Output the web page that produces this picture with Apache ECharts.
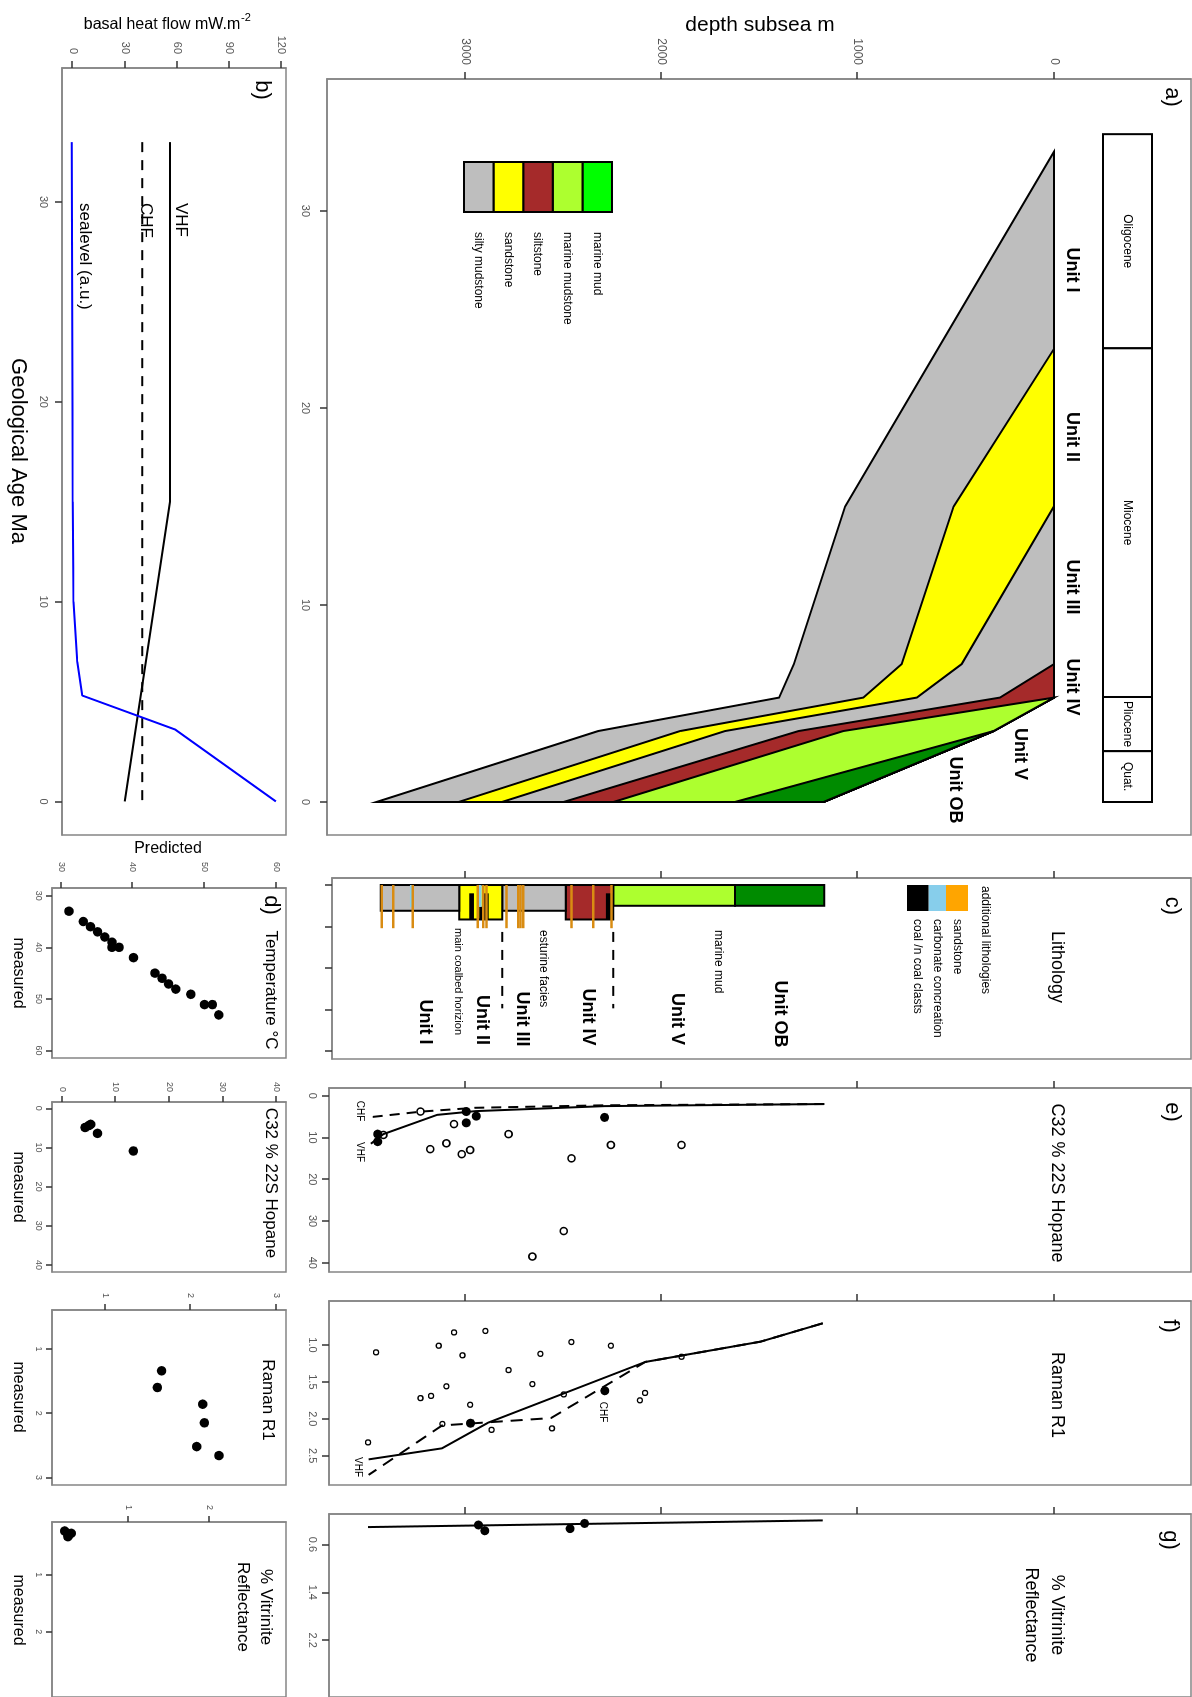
<!DOCTYPE html>
<html>
<head>
<meta charset="utf-8">
<script src="https://cdn.jsdelivr.net/npm/echarts@6/dist/echarts.min.js"></script>
<style>
  html, body { margin: 0; padding: 0; width: 1192px; height: 1697px; overflow: hidden; background: #fff; }
  /* the figure is laid out landscape and turned a quarter turn clockwise */
  #chart { position: absolute; left: 0; top: 0; width: 1697px; height: 1192px;
           transform-origin: 0 0; transform: translate(1192px, 0) rotate(90deg); }
</style>
</head>
<body>
<div id="chart"></div>
<script>
// ---------------- burial history (panel a) ----------------
const burialAges    = [33, 23, 15, 7, 5.3, 3.6, 0];          // Ma
const seafloorDepth = [0, 0, 0, 0, 0, 308, 1174];            // m subsea
const baseUnitI     = [0, 591, 1064, 1325, 1400, 2322, 3451];
const baseUnitII    = [null, 0, 511, 776, 971, 1905, 3033];
const baseUnitIII   = [null, null, 0, 470, 699, 1676, 2812];
const baseUnitIV    = [null, null, null, 0, 275, 1302, 2498];
const baseUnitV     = [null, null, null, null, 0, 1074, 2244];
const baseUnitOB    = [null, null, null, null, null, 308, 1625];
const unitNames     = ['Unit I', 'Unit II', 'Unit III', 'Unit IV', 'Unit V', 'Unit OB'];

const epochNames = ['Oligocene', 'Miocene', 'Pliocene', 'Quat.'];
const epochStart = [33.9, 23.03, 5.33, 2.58];
const epochEnd   = [23.03, 5.33, 2.58, 0];

const legendNames = ['marine mud', 'marine mudstone', 'siltstone', 'sandstone', 'silty mudstone'];

// ---------------- heat flow / sea level (panel b) ----------------
const vhfAges = [33, 15, 0];
const vhfFlow = [56, 56, 30];
const chfAges = [33, 0];
const chfFlow = [40, 40];
const seaAges  = [33, 15, 10, 7, 5.3, 3.6, 0];
const seaLevel = [-0.5, 0, 0.4, 2.6, 5.5, 59, 117];

// ---------------- lithology log (panel c) ----------------
const lithoTop   = [1170, 1625, 2245, 2486, 2810, 3029];
const lithoBase  = [1625, 2245, 2486, 2810, 3029, 3429];
const lithoGrain = [0.5, 0.5, 0.83, 0.62, 0.83, 0.62];
const lithoUnit  = ['Unit OB', 'Unit V', 'Unit IV', 'Unit III', 'Unit II', 'Unit I'];
const coalTop    = [2954, 2910, 2879, 2241];
const coalBase   = [2978, 2927, 2903, 2282];
const coalFrom   = [0.2, 0.52, 0.2, 0.2];
const coalTo     = [0.83, 0.83, 0.83, 0.83];
const carbTop    = [3263, 2915];
const carbBase   = [3280, 2932];
const carbGrain  = [0.53, 0.53];
const sandDepths = [3424, 3365, 3266, 2935, 2907, 2890, 2788, 2729, 2717, 2703, 2457, 2347, 2253];
const sandGrain  = 1.04;
const faciesBreakDepths = [2810, 2245];

// ---------------- C32 % 22S hopane (panel e) ----------------
const hopVhfDepth = [1170, 2290, 2948, 3143, 3416, 3480];
const hopVhf      = [2.0, 2.5, 3.7, 4.6, 9.2, 11.5];
const hopChfDepth = [1170, 2290, 2948, 3221, 3494];
const hopChf      = [2.0, 2.3, 2.9, 3.8, 5.2];
const hopOpenDepth = [3227, 3416, 3056, 3095, 3177, 3017, 2974, 2778, 2458, 2497, 2657, 2257, 1897];
const hopOpen      = [3.8, 9.4, 6.8, 11.4, 12.8, 14.0, 13.0, 9.2, 15.0, 32.4, 38.5, 11.8, 11.8];
const hopFilledDepth = [2994, 2994, 2943, 3445, 3445, 2289];
const hopFilled      = [3.8, 6.5, 4.9, 9.2, 11.0, 5.2];

// ---------------- Raman R1 (panel f) ----------------
const ramVhfDepth = [1178, 1495, 2082, 2880, 3117, 3491];
const ramVhf      = [0.706, 0.955, 1.23, 2.05, 2.40, 2.55];
const ramChfDepth = [1178, 1495, 2082, 2562, 3117, 3491];
const ramChf      = [0.706, 0.955, 1.23, 1.99, 2.09, 2.76];
const ramOpenDepth = [3453, 3134, 3056, 3013, 2896, 2778, 2616, 2458, 3095, 3173, 3227, 2974, 2657, 2497, 3115, 2865, 2557, 3494, 2257, 1897, 2083, 2109];
const ramOpen      = [1.10, 1.01, 0.83, 1.14, 0.81, 1.34, 1.12, 0.96, 1.56, 1.69, 1.72, 1.81, 1.53, 1.67, 2.07, 2.15, 2.13, 2.32, 1.01, 1.16, 1.65, 1.75];
const ramFilledDepth = [2972, 2288];
const ramFilled      = [2.06, 1.62];

// ---------------- vitrinite reflectance (panel g) ----------------
const vrModelDepth = [1178, 3494];
const vrModel      = [0.197, 0.309];
const vrFilledDepth = [2932, 2899, 2465, 2391];
const vrFilled      = [0.274, 0.37, 0.335, 0.248];

// ---------------- measured vs predicted ----------------
const tempMeasured  = [33.0, 35.0, 36.0, 37.0, 38.0, 39.0, 40.0, 40.0, 42.0, 45.0, 46.0, 47.1, 48.1, 49.1, 51.1, 51.1, 53.1];
const tempPredicted = [31.1, 33.1, 34.1, 35.1, 36.1, 37.1, 37.1, 38.1, 40.1, 43.1, 44.1, 45.0, 46.0, 48.1, 50.0, 51.1, 52.0];
const hopMeasured   = [4.9, 4.4, 4.1, 6.4, 10.9];
const hopPredicted  = [4.3, 5.0, 5.35, 6.6, 13.3];
const ramMeasured   = [1.34, 1.60, 1.86, 2.15, 2.52, 2.66];
const ramPredicted  = [1.66, 1.61, 2.14, 2.16, 2.07, 2.33];
const vrMeasured    = [0.23, 0.30, 0.27, 0.33];
const vrPredicted   = [0.22, 0.26, 0.30, 0.26];

// ---------------- tick values ----------------
const ageTicks = [0, 10, 20, 30];
const depthTicks = [0, 1000, 2000, 3000];
const heatFlowTicks = [0, 30, 60, 90, 120];
const grainTicks = [0, 1, 2, 3, 4];
const hopaneTicks = [0, 10, 20, 30, 40];
const ramanTicks = [1.0, 1.5, 2.0, 2.5];
const vrTicks = [0.6, 1.4, 2.2];
const tempTicks = [30, 40, 50, 60];
const ramanCrossTicks = [1, 2, 3];
const vrCrossTicks = [1, 2];

// ---------------- styling ----------------
const FONT = "'Liberation Sans', Arial, Helvetica, sans-serif";
const unitColor = {
  'Unit I': '#BEBEBE', 'Unit II': '#FFFF00', 'Unit III': '#BEBEBE',
  'Unit IV': '#A52A2A', 'Unit V': '#ADFF2F', 'Unit OB': '#008B00'
};
const legendColor = {
  'marine mud': '#00FF00', 'marine mudstone': '#ADFF2F', 'siltstone': '#A52A2A',
  'sandstone': '#FFFF00', 'silty mudstone': '#BEBEBE'
};
const baseSurfaces = [baseUnitI, baseUnitII, baseUnitIII, baseUnitIV, baseUnitV, baseUnitOB];
const zip = (xs, ys) => xs.map((v, i) => [v, ys[i]]);

const gridBoxes = [
  { left: 79,   top: 1,   width: 756, height: 864 },  // a
  { left: 68,   top: 906, width: 767, height: 224 },  // b
  { left: 878,  top: 1,   width: 181, height: 859 },  // c
  { left: 1088, top: 1,   width: 184, height: 862 },  // e
  { left: 1301, top: 1,   width: 184, height: 862 },  // f
  { left: 1514, top: 1,   width: 200, height: 862 },  // g
  { left: 888,  top: 906, width: 170, height: 234 },  // d
  { left: 1102, top: 906, width: 170, height: 234 },  // hopane cross plot
  { left: 1310, top: 906, width: 175, height: 234 },  // raman cross plot
  { left: 1522, top: 906, width: 190, height: 234 }   // vitrinite cross plot
].map(g => Object.assign({ show: true, borderColor: '#858585', borderWidth: 1.5, backgroundColor: 'transparent' }, g));

const plain = v => String(v);
const fmt1 = v => Number(v).toFixed(1);

function axis(gridIndex, min, max, ticks, o) {
  o = o || {};
  return {
    type: 'value', gridIndex: gridIndex, min: min, max: max, inverse: !!o.inverse,
    axisLine: { show: true, onZero: false, lineStyle: { color: '#858585', width: 1.5 } },
    axisTick: { show: true, length: o.tickLen || 7, customValues: ticks, lineStyle: { color: '#333', width: 1.5 } },
    axisLabel: { show: o.labels !== false, customValues: ticks, margin: o.margin || 12,
                 fontSize: o.fontSize || 11, color: '#555', fontFamily: FONT, formatter: o.fmt || plain },
    splitLine: { show: false }
  };
}

const xAxes = [
  axis(0, -1.675, 36.70, ageTicks, { inverse: true, margin: 16, fontSize: 11 }),
  axis(1, -1.68, 36.71, ageTicks, { inverse: true, margin: 13, fontSize: 11 }),
  axis(2, -0.169, 4.19, grainTicks, { labels: false }),
  axis(3, -1.84, 42.2, hopaneTicks, { margin: 11, fontSize: 11 }),
  axis(4, 0.404, 2.897, ramanTicks, { margin: 11, fontSize: 11, fmt: fmt1 }),
  axis(5, 0.09, 3.15, vrTicks, { margin: 11, fontSize: 11, fmt: fmt1 }),
  axis(6, 28.5, 61.45, tempTicks, { margin: 9, fontSize: 9, tickLen: 6 }),
  axis(7, -1.61, 41.8, hopaneTicks, { margin: 9, fontSize: 9, tickLen: 6 }),
  axis(8, 0.393, 3.118, ramanCrossTicks, { margin: 9, fontSize: 9, tickLen: 6 }),
  axis(9, 0.071, 3.15, vrCrossTicks, { margin: 9, fontSize: 9, tickLen: 6 })
].map(a => Object.assign(a, { position: 'bottom' }));

const yAxes = [
  axis(0, -698, 3703, depthTicks, { inverse: true, margin: 14, fontSize: 12 }),
  axis(1, -6.16, 122.8, heatFlowTicks, { margin: 14, fontSize: 11 }),
  axis(2, -698, 3677, depthTicks, { inverse: true, labels: false }),
  axis(3, -698, 3693, depthTicks, { inverse: true, labels: false }),
  axis(4, -698, 3693, depthTicks, { inverse: true, labels: false }),
  axis(5, -698, 3693, depthTicks, { inverse: true, labels: false }),
  axis(6, 28.74, 61.38, tempTicks, { margin: 16, fontSize: 9, tickLen: 6 }),
  axis(7, -1.87, 41.8, hopaneTicks, { margin: 10, fontSize: 9, tickLen: 6 }),
  axis(8, 0.378, 3.115, ramanCrossTicks, { margin: 12, fontSize: 9, tickLen: 6 }),
  axis(9, 0.065, 2.936, vrCrossTicks, { margin: 12, fontSize: 9, tickLen: 6 })
].map(a => Object.assign(a, { position: 'left' }));

// ---------------- series ----------------
const series = [];
const solidDot = { color: '#000', opacity: 1 };
const openDot = w => ({ color: '#fff', borderColor: '#000', borderWidth: w, opacity: 1 });

// burial history polygons: each base surface closed against the sea floor
series.push({
  type: 'custom', xAxisIndex: 0, yAxisIndex: 0, clip: false, z: 2,
  data: unitNames.map((_, i) => [i, 0]),
  renderItem: (params, api) => {
    const base = baseSurfaces[params.dataIndex];
    const start = base.findIndex(v => v !== null);
    const pts = [];
    for (let i = start; i < burialAges.length; i++) pts.push(api.coord([burialAges[i], base[i]]));
    for (let i = burialAges.length - 1; i >= start; i--) pts.push(api.coord([burialAges[i], seafloorDepth[i]]));
    return { type: 'polygon', shape: { points: pts },
             style: { fill: unitColor[unitNames[params.dataIndex]], stroke: '#000', lineWidth: 2 } };
  }
});

// chronostratigraphic bar
series.push({
  type: 'custom', xAxisIndex: 0, yAxisIndex: 0, clip: false, z: 3,
  data: epochNames.map((_, i) => [epochStart[i], epochEnd[i]]),
  renderItem: (params, api) => {
    const x1 = api.coord([api.value(0), 0])[0];
    const x2 = api.coord([api.value(1), 0])[0];
    return { type: 'group', children: [
      { type: 'rect', shape: { x: x1, y: 40, width: x2 - x1, height: 49 },
        style: { fill: '#fff', stroke: '#000', lineWidth: 2 } },
      { type: 'text', x: (x1 + x2) / 2, y: 65,
        style: { text: epochNames[params.dataIndex], font: '12px ' + FONT, fill: '#000',
                 align: 'center', verticalAlign: 'middle' } }
    ] };
  }
});

// panel b
series.push({ type: 'line', xAxisIndex: 1, yAxisIndex: 1, symbol: 'none', data: zip(vhfAges, vhfFlow),
              lineStyle: { color: '#000', width: 2 } });
series.push({ type: 'line', xAxisIndex: 1, yAxisIndex: 1, symbol: 'none', data: zip(chfAges, chfFlow),
              lineStyle: { color: '#000', width: 2, type: [10, 8] } });
series.push({ type: 'line', xAxisIndex: 1, yAxisIndex: 1, symbol: 'none', data: zip(seaAges, seaLevel),
              lineStyle: { color: '#0000FF', width: 2 } });

// panel c: lithology column
series.push({
  type: 'custom', xAxisIndex: 2, yAxisIndex: 2, z: 2,
  data: lithoTop.map((t, i) => [lithoGrain[i], t]),
  renderItem: (params, api) => {
    const i = params.dataIndex;
    const p1 = api.coord([0, lithoTop[i]]);
    const p2 = api.coord([lithoGrain[i], lithoBase[i]]);
    return { type: 'rect', shape: { x: p1[0], y: p1[1], width: p2[0] - p1[0], height: p2[1] - p1[1] },
             style: { fill: unitColor[lithoUnit[i]], stroke: '#000', lineWidth: 2 } };
  }
});
series.push({
  type: 'custom', xAxisIndex: 2, yAxisIndex: 2, z: 3,
  data: coalTop.map((t, i) => [coalTo[i], t]),
  renderItem: (params, api) => {
    const i = params.dataIndex;
    const p1 = api.coord([coalFrom[i], coalTop[i]]);
    const p2 = api.coord([coalTo[i], coalBase[i]]);
    return { type: 'rect', shape: { x: p1[0], y: p1[1], width: p2[0] - p1[0], height: p2[1] - p1[1] },
             style: { fill: '#000' } };
  }
});
series.push({
  type: 'custom', xAxisIndex: 2, yAxisIndex: 2, z: 4,
  data: carbTop.map((t, i) => [carbGrain[i], t]),
  renderItem: (params, api) => {
    const i = params.dataIndex;
    const p1 = api.coord([0, carbTop[i]]);
    const p2 = api.coord([carbGrain[i], carbBase[i]]);
    return { type: 'rect', shape: { x: p1[0], y: p1[1], width: p2[0] - p1[0], height: p2[1] - p1[1] },
             style: { fill: '#87CEEB' } };
  }
});
series.push({
  type: 'custom', xAxisIndex: 2, yAxisIndex: 2, z: 5,
  data: sandDepths.map(d => [sandGrain, d]),
  renderItem: (params, api) => {
    const d = sandDepths[params.dataIndex];
    const p1 = api.coord([0, d]);
    const p2 = api.coord([sandGrain, d]);
    return { type: 'line', shape: { x1: p1[0], y1: p1[1], x2: p2[0], y2: p2[1] },
             style: { stroke: '#D98C12', lineWidth: 2.5 } };
  }
});
series.push({
  type: 'custom', xAxisIndex: 2, yAxisIndex: 2, z: 5,
  data: faciesBreakDepths.map(d => [1.13, d]),
  renderItem: (params, api) => {
    const d = faciesBreakDepths[params.dataIndex];
    const p1 = api.coord([1.13, d]);
    const p2 = api.coord([2.97, d]);
    return { type: 'line', shape: { x1: p1[0], y1: p1[1], x2: p2[0], y2: p2[1] },
             style: { stroke: '#000', lineWidth: 2, lineDash: [10, 8] } };
  }
});

// panel e
series.push({ type: 'line', xAxisIndex: 3, yAxisIndex: 3, symbol: 'none', data: zip(hopVhf, hopVhfDepth),
              lineStyle: { color: '#000', width: 2 } });
series.push({ type: 'line', xAxisIndex: 3, yAxisIndex: 3, symbol: 'none', data: zip(hopChf, hopChfDepth),
              lineStyle: { color: '#000', width: 2, type: [10, 7] } });
series.push({ type: 'scatter', xAxisIndex: 3, yAxisIndex: 3, symbol: 'circle', symbolSize: 7,
              data: zip(hopOpen, hopOpenDepth), itemStyle: openDot(1.6) });
series.push({ type: 'scatter', xAxisIndex: 3, yAxisIndex: 3, symbol: 'circle', symbolSize: 9,
              data: zip(hopFilled, hopFilledDepth), itemStyle: solidDot });

// panel f
series.push({ type: 'line', xAxisIndex: 4, yAxisIndex: 4, symbol: 'none', data: zip(ramVhf, ramVhfDepth),
              lineStyle: { color: '#000', width: 2 } });
series.push({ type: 'line', xAxisIndex: 4, yAxisIndex: 4, symbol: 'none', data: zip(ramChf, ramChfDepth),
              lineStyle: { color: '#000', width: 2, type: [12, 8] } });
series.push({ type: 'scatter', xAxisIndex: 4, yAxisIndex: 4, symbol: 'circle', symbolSize: 5,
              data: zip(ramOpen, ramOpenDepth), itemStyle: openDot(1.3) });
series.push({ type: 'scatter', xAxisIndex: 4, yAxisIndex: 4, symbol: 'circle', symbolSize: 9,
              data: zip(ramFilled, ramFilledDepth), itemStyle: solidDot });

// panel g
series.push({ type: 'line', xAxisIndex: 5, yAxisIndex: 5, symbol: 'none', data: zip(vrModel, vrModelDepth),
              lineStyle: { color: '#000', width: 2 } });
series.push({ type: 'scatter', xAxisIndex: 5, yAxisIndex: 5, symbol: 'circle', symbolSize: 9,
              data: zip(vrFilled, vrFilledDepth), itemStyle: solidDot });

// measured vs predicted
[[6, tempMeasured, tempPredicted], [7, hopMeasured, hopPredicted],
 [8, ramMeasured, ramPredicted], [9, vrMeasured, vrPredicted]].forEach(([g, m, p]) => {
  series.push({ type: 'scatter', xAxisIndex: g, yAxisIndex: g, symbol: 'circle', symbolSize: 9.5,
                data: zip(m, p), itemStyle: solidDot });
});

// ---------------- text and legends ----------------
function txt(text, x, y, size, o) {
  o = o || {};
  return { type: 'text', x: x, y: y, rotation: o.rot ? Math.PI / 2 : 0, z: 100,
           style: { text: text, font: (o.bold ? 'bold ' : '') + size + 'px ' + FONT, fill: o.color || '#000',
                    align: o.align || 'center', verticalAlign: 'middle' } };
}
const graphics = [];
graphics.push(txt('depth subsea m', 25, 432, 21, { rot: true }));
graphics.push(txt('basal heat flow mW.m', 25, 1030, 16, { rot: true }));
graphics.push(txt('-2', 18, 951, 11, { rot: true, align: 'left' }));
graphics.push(txt('Geological Age Ma', 451, 1174, 22));
graphics.push(txt('Predicted', 849, 1024, 16, { rot: true }));
[973, 1187, 1397, 1610].forEach(x => graphics.push(txt('measured', x, 1174, 16)));

[['a)', 97, 20], ['b)', 90, 930], ['c)', 906, 20], ['d)', 905, 921],
 ['e)', 1112, 20], ['f)', 1326, 22], ['g)', 1540, 22]].forEach(([t, x, y]) => graphics.push(txt(t, x, y, 22)));

graphics.push(txt('Lithology', 967, 135, 18));
graphics.push(txt('C32 % 22S Hopane', 1183, 135, 18));
graphics.push(txt('Raman R1', 1395, 135, 18));
graphics.push(txt('% Vitrinite', 1615, 135, 18));
graphics.push(txt('Reflectance', 1615, 161, 18));
graphics.push(txt('Temperature °C', 990, 921, 17));
graphics.push(txt('C32 % 22S Hopane', 1183, 921, 17));
graphics.push(txt('Raman R1', 1400, 924, 17));
graphics.push(txt('% Vitrinite', 1607, 926, 17));
graphics.push(txt('Reflectance', 1607, 949, 17));

// unit names on the burial plot
[['Unit I', 270, 120], ['Unit II', 437, 120], ['Unit III', 587, 120], ['Unit IV', 687, 120],
 ['Unit V', 754, 172], ['Unit OB', 790, 237]].forEach(([t, x, y]) => graphics.push(txt(t, x, y, 18, { bold: true })));

// lithology legend of panel a
legendNames.forEach((n, i) => {
  graphics.push({ type: 'rect', z: 100, shape: { x: 162, y: 580 + i * 29.6, width: 50, height: 29.6 },
                  style: { fill: legendColor[n], stroke: '#000', lineWidth: 2 } });
  graphics.push(txt(n, 232, 595 + i * 29.6, 12, { align: 'left' }));
});

// panel b line labels
graphics.push(txt('VHF', 203, 1011, 17, { align: 'left' }));
graphics.push(txt('CHF', 203, 1046, 17, { align: 'left' }));
graphics.push(txt('sealevel (a.u.)', 203, 1107, 17, { align: 'left' }));

// panel c annotations
[['Unit I', 1022, 767], ['Unit II', 1020, 710], ['Unit III', 1019, 670], ['Unit IV', 1017, 604],
 ['Unit V', 1019, 515], ['Unit OB', 1014, 412]].forEach(([t, x, y]) => graphics.push(txt(t, x, y, 18, { bold: true })));
graphics.push(txt('main coalbed horizion', 928, 734, 11, { align: 'left' }));
graphics.push(txt('esturine facies', 930, 649, 12, { align: 'left' }));
graphics.push(txt('marine mud', 930, 474, 12, { align: 'left' }));
graphics.push(txt('additional lithologies', 886, 207, 12, { align: 'left' }));
[['#FFA500', 'sandstone', 224, 22], ['#87CEEB', 'carbonate concreation', 246, 17.5], ['#000000', 'coal /n coal clasts', 263.5, 21.5]]
  .forEach(([c, t, y, h]) => {
    graphics.push({ type: 'rect', z: 100, shape: { x: 885, y: y, width: 26, height: h }, style: { fill: c } });
    graphics.push(txt(t, 919, y + h / 2, 12, { align: 'left' }));
  });

// model curve labels in panels e and f
graphics.push(txt('CHF', 1111, 832, 10));
graphics.push(txt('VHF', 1152, 832, 10));
graphics.push(txt('VHF', 1467, 834, 10));
graphics.push(txt('CHF', 1412, 589, 10));

const chart = echarts.init(document.getElementById('chart'), null, { renderer: 'canvas', width: 1697, height: 1192 });
chart.setOption({
  animation: false,
  backgroundColor: '#fff',
  grid: gridBoxes,
  xAxis: xAxes,
  yAxis: yAxes,
  series: series,
  graphic: { elements: graphics }
});
</script>
</body>
</html>
